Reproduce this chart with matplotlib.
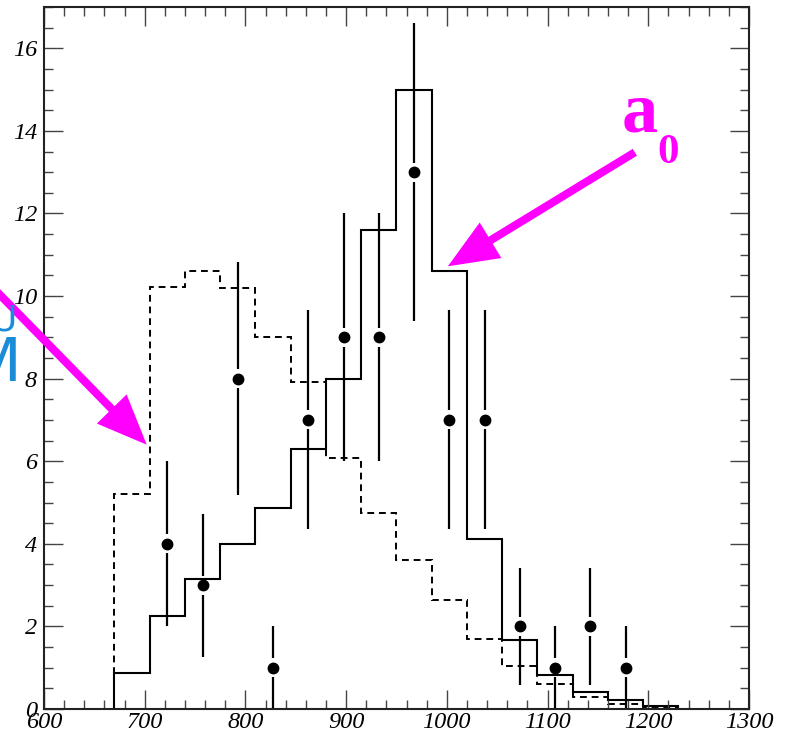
import numpy as np
import matplotlib
matplotlib.use("Agg")
import matplotlib.pyplot as plt
from matplotlib.ticker import MultipleLocator

plt.rcParams['font.family'] = ['Liberation Serif', 'DejaVu Serif']
plt.rcParams['font.style'] = 'italic'

# bin edges (MeV) and histogram contents
edges = [670, 705, 740, 775, 810, 845, 880, 915, 950, 985, 1020,
         1055, 1090, 1125, 1160, 1195, 1230]
solid = [0.87, 2.25, 3.15, 4.0, 4.87, 6.3, 8.0, 11.6, 15.0, 10.6,
         4.12, 1.67, 0.82, 0.4, 0.22, 0.07]
dashed = [5.2, 10.23, 10.6, 10.2, 9.0, 7.93, 6.08, 4.75, 3.6, 2.63,
          1.7, 1.05, 0.6, 0.29, 0.12, 0.05]

# data points with errors
px = [722.5, 757.5, 792.5, 827.5, 862.5, 897.5, 932.5, 967.5, 1002.5,
      1037.5, 1072.5, 1107.5, 1142.5, 1177.5]
py = [4, 3, 8, 1, 7, 9, 9, 13, 7, 7, 2, 1, 2, 1]
perr = [2.0, 1.73, 2.83, 1.0, 2.65, 3.0, 3.0, 3.61, 2.65, 2.65,
        1.41, 1.0, 1.41, 1.0]

magenta = '#ff00ff'

fig = plt.figure(figsize=(7.91, 7.35), dpi=100)
ax = fig.add_axes([0.0556, 0.0354, 0.8913, 0.9551])

ax.stairs(solid, edges, baseline=0, color='black', lw=1.5)
ax.stairs(dashed, edges, baseline=0, color='black', lw=1.4,
          linestyle=(0, (3.5, 2.5)))

# ROOT-style error bars: gap around the marker
gap = 0.23
py_a = np.array(py, dtype=float)
pe_a = np.array(perr)
ax.vlines(px, py_a + gap, py_a + pe_a, color='black', lw=1.6)
ax.vlines(px, np.maximum(py_a - pe_a, 0), py_a - gap, color='black', lw=1.6)
ax.plot(px, py, 'o', color='black', ms=7.5, zorder=5)

ax.set_xlim(600, 1300)
ax.set_ylim(0, 17.0)
ax.xaxis.set_major_locator(MultipleLocator(100))
ax.xaxis.set_minor_locator(MultipleLocator(20))
ax.yaxis.set_major_locator(MultipleLocator(2))
ax.yaxis.set_minor_locator(MultipleLocator(0.5))
ax.tick_params(which='both', direction='in', top=True, right=True,
               color='#444444', width=1.0, labelsize=17.5)
ax.tick_params(which='major', length=13.7)
ax.tick_params(which='minor', length=6.8)
ax.tick_params(axis='x', pad=2)
ax.tick_params(axis='y', pad=5)
for sp in ax.spines.values():
    sp.set_linewidth(1.5)
    sp.set_color('#222222')

# arrows
arrow = dict(arrowstyle='simple,head_length=36,head_width=30,tail_width=5.8',
             mutation_scale=1, color=magenta, lw=0, shrinkA=0, shrinkB=0)
ax.annotate('', xy=(1001, 10.72), xycoords='data',
            xytext=(187, 114), textcoords='offset pixels', arrowprops=arrow,
            annotation_clip=False)
ax.annotate('', xy=(702, 6.4), xycoords='data',
            xytext=(-190, 194), textcoords='offset pixels', arrowprops=arrow,
            annotation_clip=False)

# labels
fig.text(622 / 791, 1 - 132 / 735, 'a', color=magenta, fontsize=52,
         fontweight='bold', style='normal', va='baseline', ha='left')
fig.text(657 / 791, 1 - 163 / 735, '0', color=magenta, fontsize=31,
         fontweight='bold', style='normal', va='baseline', ha='left')
fig.text(22 / 791, 1 - 381 / 735, 'M', color='#1a8cd8', fontsize=44,
         family='DejaVu Sans', style='normal', va='baseline', ha='right',
         zorder=0)
fig.text(17 / 791, 1 - 331 / 735, 'U', color='#1a8cd8', fontsize=26,
         family='DejaVu Sans', style='normal', va='baseline', ha='right',
         zorder=0)

fig.savefig('out.png', dpi=100)
